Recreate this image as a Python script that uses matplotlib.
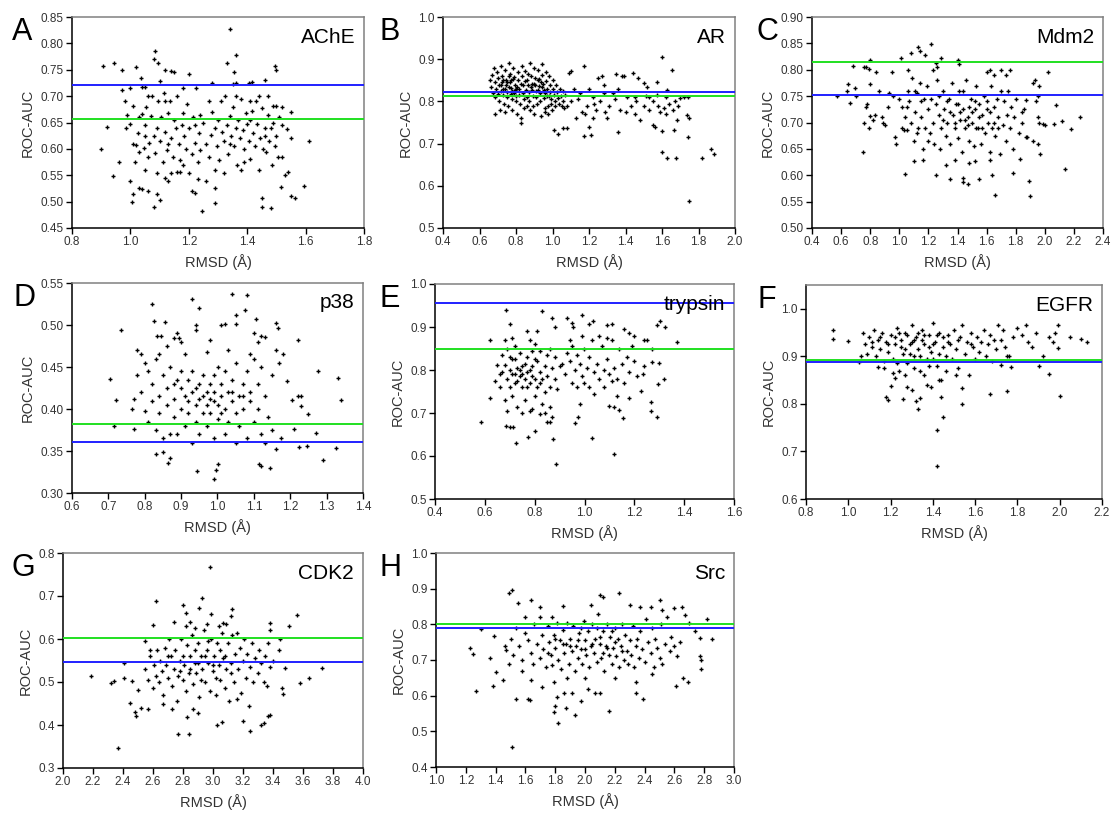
import numpy as np
import matplotlib
matplotlib.use("Agg")
import matplotlib.pyplot as plt

plt.rcParams['font.family'] = ['Liberation Sans', 'DejaVu Sans']

W, H = 1116, 818

# ---- data (RMSD, ROC-AUC) ----
ache = np.array([
    (0.905,0.757),(0.945,0.762),(0.97,0.750),(1.02,0.755),(1.035,0.735),(0.90,0.600),(0.92,0.641),(0.94,0.549),
    (0.96,0.575),(1.005,0.500),(1.01,0.515),(1.0,0.540),(1.08,0.770),(1.085,0.785),(1.095,0.762),(1.10,0.728),
    (1.12,0.750),(1.14,0.748),(1.15,0.745),(1.20,0.742),(1.08,0.490),(1.10,0.503),(1.09,0.515),(1.245,0.482),
    (1.29,0.498),(1.29,0.525),(1.34,0.827),(1.36,0.778),(1.355,0.745),(1.33,0.763),(1.46,0.731),(1.50,0.750),
    (1.495,0.758),(1.45,0.506),(1.45,0.490),(1.48,0.488),(1.55,0.510),(1.565,0.506),(1.595,0.530),(1.61,0.615),
    (1.55,0.670),(1.535,0.638),(1.55,0.620),(1.54,0.557),(1.53,0.551),(1.52,0.585),(1.515,0.527),(1.50,0.681),
    (1.52,0.680),(1.49,0.682),(1.21,0.520),(1.22,0.517),(1.23,0.542),(1.26,0.540),(1.16,0.556),(1.17,0.556),
    (1.14,0.555),(1.13,0.540),(1.12,0.545),(1.05,0.560),(1.03,0.526),(1.04,0.523),(1.06,0.520),(1.18,0.715),
    (1.225,0.716),(1.28,0.725),(1.35,0.723),(1.36,0.725),(1.405,0.725),(1.415,0.726),(1.05,0.718),(1.04,0.717),
    (1.0,0.715),(0.97,0.711),(0.98,0.690),(0.99,0.665),(1.00,0.648),(0.985,0.640),(1.01,0.682),(1.02,0.608),
    (1.03,0.595),(1.015,0.575),(1.025,0.630),(1.04,0.666),(1.045,0.602),(1.05,0.645),(1.055,0.680),(1.06,0.585),
    (1.065,0.612),(1.07,0.662),(1.075,0.700),(1.08,0.625),(1.085,0.593),(1.09,0.640),(1.095,0.690),(1.10,0.615),
    (1.105,0.660),(1.11,0.575),(1.115,0.705),(1.12,0.632),(1.125,0.598),(1.13,0.668),(1.135,0.690),(1.14,0.620),
    (1.145,0.585),(1.15,0.655),(1.155,0.640),(1.16,0.700),(1.165,0.610),(1.17,0.578),(1.175,0.645),(1.18,0.668),
    (1.185,0.625),(1.19,0.600),(1.195,0.685),(1.20,0.640),(1.21,0.590),(1.215,0.660),(1.22,0.612),(1.23,0.575),
    (1.235,0.630),(1.24,0.598),(1.25,0.650),(1.26,0.610),(1.27,0.585),(1.275,0.627),(1.28,0.670),(1.29,0.640),
    (1.295,0.605),(1.30,0.655),(1.305,0.578),(1.31,0.690),(1.315,0.632),(1.32,0.615),(1.325,0.700),(1.33,0.645),
    (1.335,0.590),(1.34,0.662),(1.345,0.625),(1.35,0.680),(1.355,0.605),(1.36,0.640),(1.365,0.570),(1.37,0.655),
    (1.375,0.620),(1.38,0.695),(1.385,0.635),(1.39,0.600),(1.395,0.668),(1.40,0.648),(1.405,0.615),(1.41,0.580),
    (1.415,0.672),(1.42,0.630),(1.425,0.605),(1.43,0.690),(1.435,0.648),(1.44,0.560),(1.445,0.620),(1.45,0.678),
    (1.455,0.600),(1.46,0.640),(1.465,0.595),(1.47,0.665),(1.475,0.615),(1.48,0.640),(1.485,0.570),(1.49,0.650),
    (1.495,0.605),(1.50,0.625),(1.505,0.585),(1.51,0.660),(1.52,0.645),(1.03,0.660),(1.06,0.700),(1.09,0.555),
    (1.12,0.690),(1.18,0.570),(1.24,0.665),(1.32,0.555),(1.38,0.560),(1.44,0.700),(1.47,0.700),(1.41,0.690),
    (1.36,0.700),(1.27,0.690),(1.13,0.610),(1.01,0.610),(1.05,0.625),(1.22,0.645),(1.34,0.610),(1.41,0.655),
    (1.46,0.625),(1.39,0.575),(1.29,0.560),(1.20,0.555)])

ar = np.array([
    (1.60,0.905),(1.655,0.875),(1.75,0.565),(1.60,0.680),(1.63,0.665),(1.675,0.665),(1.82,0.667),(1.87,0.688),
    (1.885,0.675),(1.745,0.715),(1.75,0.760),(1.735,0.767),(1.68,0.755),(1.665,0.733),(1.55,0.745),(1.56,0.740),
    (1.60,0.729),(1.36,0.727),(1.03,0.723),(1.01,0.732),(1.06,0.736),(1.08,0.736),(1.175,0.717),(1.21,0.720),
    (1.20,0.740),(1.17,0.885),(1.10,0.872),(1.09,0.868),(1.35,0.865),(1.38,0.860),(1.39,0.861),(1.44,0.868),
    (1.47,0.855),(1.50,0.843),(1.52,0.833),(1.57,0.845),(1.25,0.855),(1.27,0.860),(1.28,0.840),(1.63,0.826),
    (1.70,0.808),(1.72,0.810),(1.74,0.810),(1.12,0.830),(1.15,0.820),(1.14,0.805),(1.16,0.775),(1.18,0.770),
    (1.19,0.790),(1.22,0.810),(1.23,0.795),(1.24,0.780),(1.26,0.800),(1.29,0.775),(1.30,0.760),(1.31,0.790),
    (1.33,0.820),(1.34,0.805),(1.37,0.780),(1.40,0.775),(1.41,0.810),(1.43,0.790),(1.45,0.770),(1.46,0.800),
    (1.48,0.755),(1.50,0.790),(1.51,0.812),(1.53,0.780),(1.55,0.800),(1.57,0.815),(1.58,0.790),(1.59,0.775),
    (1.61,0.785),(1.62,0.770),(1.64,0.795),(1.66,0.780),(1.67,0.800),(1.69,0.790),(1.20,0.830),(1.28,0.820),
    (1.36,0.830),(1.45,0.810),(1.10,0.800),(1.08,0.790),(1.07,0.815),(1.13,0.760),(1.22,0.760),(1.53,0.810),
    (1.62,0.810),(0.655,0.850),(0.662,0.835),(0.668,0.862),(0.672,0.820),(0.678,0.880),(0.683,0.845),(0.687,0.810),
    (0.684,0.770),(0.691,0.830),(0.697,0.870),(0.702,0.855),(0.705,0.840),(0.708,0.800),(0.712,0.780),(0.716,0.825),
    (0.719,0.885),(0.722,0.860),(0.725,0.845),(0.728,0.830),(0.731,0.815),(0.734,0.795),(0.737,0.775),(0.741,0.875),
    (0.744,0.850),(0.747,0.838),(0.750,0.822),(0.753,0.810),(0.756,0.790),(0.759,0.860),(0.762,0.890),(0.765,0.865),
    (0.768,0.845),(0.771,0.832),(0.774,0.818),(0.777,0.805),(0.780,0.780),(0.783,0.852),(0.786,0.880),(0.789,0.858),
    (0.792,0.840),(0.795,0.826),(0.798,0.812),(0.801,0.800),(0.804,0.770),(0.807,0.835),(0.810,0.870),(0.813,0.850),
    (0.816,0.830),(0.819,0.815),(0.822,0.795),(0.825,0.760),(0.828,0.842),(0.831,0.885),(0.834,0.860),(0.837,0.838),
    (0.840,0.820),(0.843,0.805),(0.846,0.785),(0.829,0.750),(0.849,0.872),(0.852,0.848),(0.855,0.828),(0.858,0.810),
    (0.861,0.790),(0.864,0.865),(0.867,0.840),(0.870,0.822),(0.873,0.800),(0.876,0.780),(0.879,0.890),(0.882,0.860),
    (0.885,0.842),(0.888,0.826),(0.891,0.812),(0.894,0.790),(0.897,0.770),(0.900,0.880),(0.903,0.855),(0.906,0.838),
    (0.909,0.825),(0.912,0.810),(0.915,0.795),(0.918,0.850),(0.921,0.875),(0.924,0.852),(0.927,0.836),(0.930,0.820),
    (0.933,0.800),(0.936,0.765),(0.939,0.845),(0.942,0.888),(0.945,0.862),(0.948,0.842),(0.951,0.826),(0.954,0.808),
    (0.957,0.785),(0.960,0.775),(0.963,0.870),(0.966,0.848),(0.969,0.830),(0.972,0.812),(0.975,0.790),(0.978,0.770),
    (0.981,0.860),(0.984,0.840),(0.987,0.822),(0.990,0.805),(0.993,0.795),(0.996,0.780),(1.000,0.850),(1.004,0.830),
    (1.008,0.815),(1.012,0.800),(1.016,0.790),(1.020,0.840),(1.025,0.822),(1.030,0.808),(1.035,0.795),(1.040,0.830),
    (1.045,0.812),(1.050,0.790),(1.055,0.825),(1.060,0.800),(1.065,0.785),(0.74,0.830),(0.76,0.835),(0.78,0.825),
    (0.75,0.845),(0.77,0.850),(0.79,0.820),(0.73,0.850),(0.72,0.838),(0.80,0.830),(0.70,0.818),(0.88,0.835),
    (0.90,0.842),(0.92,0.828),(0.86,0.850),(0.94,0.835),(0.96,0.820),(0.98,0.812)])

mdm2 = np.array([
    (0.575,0.750),(0.64,0.760),(0.645,0.773),(0.66,0.737),(0.68,0.808),(0.695,0.765),(0.70,0.750),(0.75,0.645),
    (0.755,0.805),(0.77,0.805),(0.80,0.818),(0.79,0.802),(0.80,0.773),(0.76,0.700),(0.77,0.730),(0.78,0.735),
    (0.79,0.690),(0.80,0.712),(0.82,0.705),(0.83,0.715),(0.84,0.795),(0.86,0.760),(0.88,0.710),(0.89,0.700),
    (0.90,0.695),(0.92,0.730),(0.93,0.755),(0.95,0.795),(0.96,0.750),(0.97,0.672),(0.98,0.660),(1.00,0.745),
    (1.01,0.823),(1.02,0.690),(1.03,0.685),(1.04,0.602),(1.05,0.730),(1.06,0.800),(1.08,0.832),(1.10,0.627),
    (1.11,0.760),(1.12,0.680),(1.13,0.843),(1.14,0.835),(1.15,0.740),(1.16,0.628),(1.18,0.828),(1.20,0.665),
    (1.22,0.848),(1.23,0.800),(1.25,0.813),(1.25,0.600),(1.26,0.805),(1.29,0.822),(1.32,0.620),(1.35,0.593),
    (1.38,0.628),(1.40,0.818),(1.41,0.810),(1.44,0.595),(1.44,0.587),(1.47,0.583),(1.48,0.623),(1.52,0.627),
    (1.55,0.592),(1.62,0.628),(1.64,0.600),(1.66,0.563),(1.78,0.605),(1.83,0.630),(1.89,0.590),(1.90,0.560),
    (1.95,0.660),(1.97,0.640),(2.02,0.795),(2.00,0.695),(1.99,0.697),(2.06,0.698),(2.08,0.733),(2.12,0.703),
    (2.14,0.611),(2.18,0.688),(2.24,0.710),(1.93,0.780),(1.92,0.775),(1.96,0.770),(1.95,0.750),(1.94,0.740),
    (1.95,0.710),(1.96,0.700),(1.92,0.665),(1.87,0.672),(1.88,0.672),(1.86,0.725),(1.87,0.742),(1.84,0.700),
    (1.76,0.800),(1.73,0.790),(1.70,0.800),(1.62,0.800),(1.60,0.795),(1.65,0.790),
    (1.02,0.730),(1.04,0.710),(1.05,0.685),(1.06,0.760),(1.07,0.740),(1.08,0.700),(1.09,0.785),(1.10,0.665),
    (1.11,0.720),(1.12,0.755),(1.13,0.690),(1.14,0.775),(1.15,0.710),(1.16,0.650),(1.17,0.745),(1.18,0.690),
    (1.19,0.770),(1.20,0.725),(1.21,0.680),(1.22,0.745),(1.23,0.700),(1.24,0.660),(1.25,0.735),(1.26,0.780),
    (1.27,0.715),(1.28,0.650),(1.29,0.690),(1.30,0.760),(1.31,0.725),(1.32,0.675),(1.33,0.700),(1.34,0.745),
    (1.35,0.660),(1.36,0.775),(1.37,0.715),(1.38,0.690),(1.39,0.735),(1.40,0.670),(1.41,0.760),(1.42,0.705),
    (1.43,0.645),(1.44,0.725),(1.45,0.690),(1.46,0.780),(1.47,0.710),(1.48,0.665),(1.49,0.745),(1.50,0.700),
    (1.51,0.655),(1.52,0.725),(1.53,0.770),(1.54,0.690),(1.55,0.735),(1.56,0.660),(1.57,0.715),(1.58,0.750),
    (1.59,0.680),(1.60,0.725),(1.61,0.700),(1.62,0.645),(1.63,0.770),(1.64,0.690),(1.65,0.730),(1.66,0.675),
    (1.67,0.745),(1.68,0.710),(1.69,0.640),(1.70,0.760),(1.71,0.695),(1.72,0.740),(1.73,0.665),(1.74,0.715),
    (1.75,0.760),(1.76,0.690),(1.77,0.730),(1.78,0.650),(1.79,0.710),(1.80,0.745),(1.82,0.680),(1.84,0.720),
    (1.30,0.705),(1.35,0.720),(1.40,0.735),(1.45,0.705),(1.50,0.720),(1.55,0.710),(1.60,0.740),(1.65,0.700),
    (1.42,0.720),(1.47,0.695),(1.52,0.740),(1.38,0.700),(1.57,0.690),(1.48,0.730),(1.33,0.740),(1.62,0.720),
    (1.27,0.750),(1.44,0.760),(1.53,0.690),(1.68,0.690)])

p38 = np.array([
    (0.705,0.436),(0.715,0.380),(0.72,0.411),(0.735,0.494),(0.77,0.376),(0.765,0.400),(0.77,0.412),(0.78,0.470),
    (0.82,0.525),(0.825,0.505),(0.83,0.347),(0.85,0.349),(0.855,0.503),(0.865,0.336),(0.87,0.342),(0.93,0.531),
    (0.945,0.326),(0.95,0.520),(0.99,0.317),(0.995,0.327),(1.0,0.335),(1.04,0.537),(1.075,0.518),(1.08,0.536),
    (1.05,0.512),(1.105,0.507),(1.115,0.335),(1.12,0.332),(1.145,0.330),(1.16,0.502),(1.165,0.497),(1.22,0.482),
    (1.205,0.411),(1.21,0.376),(1.225,0.355),(1.245,0.356),(1.23,0.403),(1.25,0.394),(1.27,0.372),(1.275,0.445),
    (1.29,0.339),(1.325,0.354),(1.33,0.437),(1.34,0.411),(1.22,0.415),(1.23,0.416),(1.19,0.433),(1.18,0.465),
    (1.175,0.365),(1.16,0.352),(0.94,0.500),(0.94,0.494),(0.89,0.490),(0.895,0.485),(0.90,0.480),(0.88,0.484),
    (0.835,0.487),(0.845,0.487),(1.05,0.501),(1.01,0.500),(1.02,0.501),(0.98,0.482),(1.12,0.487),(1.13,0.486),
    (1.10,0.490),(0.78,0.440),(0.79,0.420),(0.80,0.398),(0.80,0.455),(0.81,0.385),(0.82,0.410),(0.82,0.430),
    (0.83,0.375),(0.83,0.460),(0.84,0.395),(0.84,0.415),(0.85,0.365),(0.85,0.440),(0.86,0.405),(0.86,0.425),
    (0.87,0.370),(0.87,0.450),(0.88,0.390),(0.88,0.412),(0.89,0.435),(0.89,0.370),(0.90,0.400),(0.90,0.425),
    (0.90,0.445),(0.91,0.380),(0.91,0.415),(0.92,0.435),(0.92,0.395),(0.93,0.360),(0.93,0.420),(0.93,0.445),
    (0.94,0.405),(0.94,0.385),(0.95,0.430),(0.95,0.412),(0.95,0.370),(0.96,0.395),(0.96,0.440),(0.97,0.420),
    (0.97,0.405),(0.97,0.380),(0.98,0.430),(0.98,0.412),(0.98,0.395),(0.99,0.365),(0.99,0.440),(0.99,0.420),
    (1.00,0.405),(1.00,0.450),(1.00,0.388),(1.01,0.430),(1.01,0.415),(1.02,0.370),(1.02,0.400),(1.02,0.445),
    (1.03,0.420),(1.03,0.385),(1.04,0.410),(1.04,0.435),(1.05,0.360),(1.05,0.395),(1.05,0.455),(1.06,0.415),
    (1.06,0.380),(1.07,0.430),(1.07,0.400),(1.08,0.365),(1.08,0.445),(1.09,0.410),(1.09,0.420),(1.10,0.385),
    (1.10,0.460),(1.11,0.400),(1.11,0.430),(1.12,0.370),(1.12,0.450),(1.13,0.415),(1.14,0.390),(1.15,0.440),
    (1.16,0.470),(1.17,0.455),(1.15,0.375),(1.13,0.360),(0.96,0.415),(1.01,0.395),(0.94,0.425),(1.04,0.420),
    (0.99,0.410),(0.92,0.410),(1.07,0.415),(0.88,0.430),(0.79,0.465),(0.81,0.445),(0.84,0.465),(0.86,0.475),
    (0.91,0.465),(0.97,0.468),(1.03,0.470),(1.09,0.465),(1.11,0.480)])

trypsin = np.array([
    (0.585,0.680),(0.62,0.870),(0.62,0.736),(0.685,0.940),(0.70,0.907),(0.685,0.670),(0.70,0.667),(0.715,0.668),
    (0.725,0.630),(0.775,0.645),(0.83,0.937),(0.87,0.922),(0.875,0.640),(0.885,0.582),(0.88,0.900),(0.93,0.920),
    (0.95,0.910),(0.955,0.900),(0.99,0.928),(1.02,0.907),(1.03,0.643),(1.035,0.915),(1.12,0.605),(1.09,0.905),
    (1.11,0.907),(1.16,0.895),(1.18,0.885),(1.20,0.880),(1.24,0.870),(1.25,0.870),(1.29,0.905),(1.305,0.915),
    (1.325,0.900),(1.37,0.865),(1.32,0.780),(1.29,0.690),(1.295,0.768),(1.30,0.816),(1.27,0.818),(1.265,0.725),
    (1.265,0.705),(1.225,0.752),(1.235,0.790),(1.24,0.810),(1.27,0.850),(1.18,0.735),(1.155,0.688),(1.14,0.706),
    (1.12,0.715),(1.10,0.717),(0.96,0.676),(0.975,0.690),(0.98,0.720),(0.86,0.680),(0.87,0.690),(0.85,0.680),
    (0.80,0.657),(0.82,0.697),(0.64,0.775),(0.65,0.812),(0.66,0.760),(0.67,0.795),(0.67,0.835),(0.68,0.730),
    (0.68,0.812),(0.69,0.780),(0.69,0.850),(0.70,0.760),(0.70,0.800),(0.71,0.740),(0.71,0.825),(0.72,0.790),
    (0.72,0.770),(0.73,0.805),(0.73,0.715),(0.74,0.785),(0.74,0.840),(0.75,0.760),(0.75,0.810),(0.76,0.780),
    (0.76,0.730),(0.77,0.830),(0.77,0.795),(0.78,0.770),(0.78,0.705),(0.79,0.810),(0.79,0.845),(0.80,0.780),
    (0.80,0.740),(0.81,0.820),(0.81,0.760),(0.82,0.795),(0.82,0.845),(0.83,0.720),(0.83,0.780),(0.84,0.810),
    (0.84,0.750),(0.85,0.835),(0.85,0.785),(0.86,0.760),(0.86,0.715),(0.87,0.805),(0.88,0.780),(0.88,0.830),
    (0.89,0.755),(0.90,0.810),(0.71,0.790),(0.75,0.790),(0.78,0.800),(0.73,0.775),(0.76,0.815),(0.80,0.825),
    (0.74,0.800),(0.77,0.760),(0.72,0.825),(0.79,0.785),(0.70,0.830),(0.82,0.770),(0.66,0.790),(0.69,0.705),
    (0.75,0.700),(0.79,0.710),(0.84,0.700),(0.72,0.855),(0.80,0.860),(0.86,0.850),(0.68,0.870),(0.71,0.875),
    (0.78,0.870),(0.81,0.890),(0.77,0.890),(0.91,0.815),(0.92,0.790),(0.93,0.840),(0.94,0.820),(0.95,0.770),
    (0.95,0.855),(0.96,0.800),(0.97,0.835),(0.97,0.760),(0.98,0.815),(0.99,0.785),(1.00,0.850),(1.00,0.770),
    (1.01,0.805),(1.02,0.830),(1.02,0.760),(1.03,0.870),(1.04,0.795),(1.04,0.745),(1.05,0.815),(1.06,0.780),
    (1.07,0.855),(1.08,0.800),(1.08,0.760),(1.09,0.825),(1.10,0.790),(1.11,0.870),(1.11,0.775),(1.12,0.805),
    (1.13,0.780),(1.14,0.850),(1.15,0.815),(1.16,0.770),(1.17,0.830),(1.18,0.795),(1.19,0.855),(1.20,0.820),
    (1.21,0.785),(1.06,0.880),(1.09,0.875),(0.99,0.880),(0.94,0.870),(1.13,0.740)])

egfr = np.array([
    (0.93,0.955),(0.93,0.937),(1.00,0.932),(1.05,0.888),(1.14,0.878),(1.17,0.875),(1.18,0.815),(1.19,0.808),
    (1.20,0.838),(1.22,0.855),(1.26,0.810),(1.28,0.835),(1.30,0.830),(1.32,0.806),(1.33,0.790),(1.34,0.813),
    (1.37,0.840),(1.39,0.836),(1.42,0.745),(1.42,0.670),(1.44,0.815),(1.45,0.772),(1.54,0.800),(1.54,0.833),
    (1.67,0.820),(1.75,0.828),(1.90,0.880),(1.95,0.863),(2.00,0.816),(2.05,0.940),(2.10,0.937),(2.13,0.930),
    (1.99,0.965),(1.98,0.950),(1.95,0.940),(1.97,0.930),(1.99,0.918),(1.92,0.900),(1.89,0.950),(1.87,0.920),
    (1.84,0.965),(1.80,0.960),(1.82,0.945),(1.78,0.940),(1.85,0.930),(1.77,0.878),(1.72,0.882),(1.76,0.900),
    (1.71,0.965),(1.73,0.955),(1.06,0.900),(1.07,0.950),(1.08,0.925),(1.09,0.905),(1.10,0.940),(1.11,0.920),
    (1.12,0.955),(1.13,0.900),(1.14,0.935),(1.15,0.915),(1.16,0.950),(1.17,0.890),(1.18,0.930),(1.19,0.910),
    (1.20,0.945),(1.21,0.895),(1.22,0.925),(1.23,0.960),(1.24,0.870),(1.25,0.935),(1.26,0.905),(1.27,0.950),
    (1.28,0.885),(1.29,0.925),(1.30,0.965),(1.31,0.900),(1.32,0.940),(1.33,0.915),(1.34,0.870),(1.35,0.955),
    (1.36,0.925),(1.37,0.895),(1.38,0.945),(1.39,0.910),(1.40,0.970),(1.41,0.930),(1.42,0.880),(1.43,0.950),
    (1.44,0.850),(1.45,0.920),(1.46,0.900),(1.47,0.945),(1.48,0.925),(1.49,0.895),(1.50,0.955),(1.51,0.915),
    (1.52,0.875),(1.53,0.940),(1.54,0.965),(1.55,0.905),(1.56,0.930),(1.57,0.860),(1.58,0.950),(1.59,0.920),
    (1.60,0.895),(1.61,0.940),(1.62,0.910),(1.63,0.930),(1.64,0.955),(1.65,0.900),(1.66,0.925),(1.67,0.945),
    (1.68,0.890),(1.69,0.935),(1.70,0.915),(1.72,0.935),(1.74,0.920),(1.75,0.900),(1.25,0.920),(1.30,0.930),
    (1.35,0.935),(1.40,0.925),(1.45,0.940),(1.28,0.945),(1.33,0.950),(1.38,0.920),(1.22,0.940),(1.27,0.915),
    (1.42,0.945),(1.36,0.945),(1.31,0.935),(1.24,0.950),(1.47,0.930),(1.19,0.925),(1.52,0.935),(1.58,0.925),
    (1.34,0.900),(1.29,0.905),(1.43,0.905),(1.23,0.885),(1.31,0.875),(1.38,0.880),(1.46,0.870),(1.51,0.860),
    (1.36,0.860),(1.27,0.860),(1.21,0.865),(1.43,0.850),(1.40,0.895),(1.15,0.940),(1.11,0.930)])

cdk2 = np.array([
    (2.19,0.513),(2.32,0.497),(2.34,0.502),(2.37,0.347),(2.41,0.545),(2.41,0.510),(2.45,0.452),(2.46,0.503),
    (2.48,0.430),(2.49,0.420),(2.50,0.481),(2.52,0.440),(2.57,0.437),(2.60,0.632),(2.62,0.688),(2.67,0.450),
    (2.73,0.437),(2.77,0.380),(2.84,0.380),(2.83,0.418),(2.87,0.437),(2.90,0.428),(2.93,0.695),(2.91,0.672),
    (2.98,0.768),(2.99,0.658),(3.03,0.400),(3.06,0.408),(3.13,0.670),(3.20,0.410),(3.25,0.387),(3.32,0.400),
    (3.34,0.405),(3.37,0.420),(3.38,0.424),(3.47,0.472),(3.46,0.485),(3.48,0.533),(3.51,0.630),(3.56,0.655),
    (3.58,0.497),(3.64,0.510),(3.73,0.533),(3.45,0.600),(3.44,0.575),(3.38,0.638),(3.38,0.620),(3.37,0.590),
    (2.55,0.595),(2.58,0.575),(2.80,0.678),(2.82,0.660),(2.74,0.640),(2.85,0.640),(3.09,0.635),(3.07,0.637),
    (3.12,0.653),(2.55,0.530),(2.57,0.505),(2.58,0.560),(2.60,0.485),(2.61,0.540),(2.62,0.515),(2.63,0.575),
    (2.64,0.500),(2.65,0.550),(2.66,0.525),(2.67,0.470),(2.68,0.580),(2.69,0.540),(2.70,0.510),(2.71,0.600),
    (2.72,0.560),(2.73,0.490),(2.74,0.530),(2.75,0.575),(2.76,0.455),(2.77,0.515),(2.78,0.550),(2.79,0.600),
    (2.80,0.505),(2.81,0.540),(2.82,0.480),(2.83,0.585),(2.84,0.520),(2.85,0.560),(2.86,0.610),(2.87,0.495),
    (2.88,0.545),(2.89,0.520),(2.90,0.590),(2.91,0.465),(2.92,0.560),(2.93,0.530),(2.94,0.620),(2.95,0.500),
    (2.96,0.575),(2.97,0.545),(2.98,0.480),(2.99,0.600),(3.00,0.525),(3.01,0.560),(3.02,0.470),(3.03,0.590),
    (3.04,0.540),(3.05,0.505),(3.06,0.615),(3.07,0.555),(3.08,0.485),(3.09,0.530),(3.10,0.590),(3.11,0.455),
    (3.12,0.545),(3.13,0.610),(3.14,0.500),(3.15,0.565),(3.16,0.460),(3.17,0.530),(3.18,0.580),(3.19,0.475),
    (3.20,0.550),(3.21,0.600),(3.22,0.510),(3.23,0.565),(3.24,0.445),(3.25,0.535),(3.26,0.590),(3.27,0.500),
    (3.28,0.555),(3.30,0.520),(3.31,0.575),(3.32,0.545),(3.34,0.500),(3.35,0.560),(3.36,0.490),(3.38,0.535),
    (3.40,0.550),(2.85,0.530),(2.90,0.545),(2.95,0.560),(3.00,0.540),(3.05,0.575),(2.80,0.560),(2.92,0.505),
    (3.08,0.560),(2.97,0.595),(2.88,0.575),(3.02,0.510),(2.78,0.525),(3.12,0.520),(2.70,0.560),(2.96,0.635),
    (2.88,0.625),(3.04,0.630),(2.82,0.630),(3.16,0.615)])

src = np.array([
    (1.23,0.733),(1.25,0.717),(1.27,0.613),(1.30,0.788),(1.36,0.705),(1.38,0.626),(1.39,0.768),(1.40,0.665),
    (1.45,0.645),(1.49,0.888),(1.51,0.895),(1.51,0.455),(1.54,0.592),(1.55,0.860),(1.63,0.588),(1.62,0.590),
    (1.64,0.868),(1.70,0.848),(1.78,0.820),(1.79,0.553),(1.80,0.570),(1.81,0.595),(1.82,0.523),(1.85,0.852),
    (1.87,0.565),(1.93,0.546),(1.97,0.585),(2.04,0.855),(2.10,0.882),(2.12,0.878),(2.16,0.556),(2.23,0.888),
    (2.30,0.855),(2.37,0.850),(2.39,0.590),(2.44,0.850),(2.50,0.868),(2.52,0.840),(2.60,0.845),(2.65,0.850),
    (2.61,0.628),(2.66,0.650),(2.69,0.638),(2.74,0.782),(2.77,0.712),(2.78,0.700),(2.78,0.675),(2.82,0.815),
    (2.85,0.760),(2.77,0.763),(2.70,0.805),(2.67,0.825),(2.34,0.608),(2.34,0.638),(2.10,0.607),(2.07,0.607),
    (2.02,0.618),(1.91,0.607),(1.86,0.607),(1.79,0.637),(1.71,0.623),(1.64,0.645),(1.58,0.670),(1.49,0.690),
    (1.47,0.728),(1.46,0.740),(1.50,0.760),(1.52,0.715),(1.54,0.790),(1.56,0.740),(1.58,0.700),(1.60,0.775),
    (1.62,0.755),(1.64,0.720),(1.66,0.800),(1.68,0.745),(1.70,0.705),(1.71,0.770),(1.72,0.730),(1.74,0.680),
    (1.75,0.795),(1.76,0.750),(1.77,0.715),(1.78,0.685),(1.79,0.770),(1.80,0.735),(1.81,0.805),(1.82,0.700),
    (1.83,0.755),(1.84,0.675),(1.85,0.785),(1.86,0.720),(1.87,0.745),(1.88,0.805),(1.89,0.690),(1.90,0.760),
    (1.91,0.725),(1.92,0.795),(1.93,0.670),(1.94,0.740),(1.95,0.705),(1.96,0.775),(1.97,0.730),(1.98,0.690),
    (1.99,0.810),(2.00,0.755),(2.01,0.715),(2.02,0.780),(2.03,0.680),(2.04,0.740),(2.05,0.800),(2.06,0.720),
    (2.07,0.760),(2.08,0.695),(2.09,0.830),(2.10,0.745),(2.11,0.705),(2.12,0.780),(2.13,0.670),(2.14,0.740),
    (2.15,0.800),(2.16,0.715),(2.17,0.765),(2.18,0.690),(2.19,0.735),(2.20,0.790),(2.21,0.710),(2.22,0.760),
    (2.23,0.680),(2.24,0.740),(2.25,0.800),(2.26,0.700),(2.27,0.770),(2.28,0.725),(2.29,0.690),(2.30,0.755),
    (2.31,0.715),(2.32,0.795),(2.33,0.680),(2.34,0.740),(2.35,0.760),(2.36,0.705),(2.37,0.780),(2.38,0.730),
    (2.40,0.695),(2.41,0.815),(2.42,0.750),(2.44,0.720),(2.45,0.790),(2.46,0.680),(2.47,0.760),(2.48,0.735),
    (2.50,0.705),(2.51,0.800),(2.52,0.690),(2.54,0.745),(2.55,0.820),(2.57,0.725),(2.58,0.765),(2.60,0.740),
    (2.62,0.710),(2.64,0.750),(1.90,0.740),(1.95,0.755),(2.00,0.730),(2.05,0.745),(2.10,0.765),(2.15,0.735),
    (2.20,0.750),(1.85,0.745),(2.25,0.725),(1.80,0.760),(2.12,0.720),(1.97,0.790),(2.08,0.790),(2.18,0.780),
    (1.75,0.720),(1.65,0.690),(1.70,0.820),(1.60,0.820),(2.00,0.650),(2.20,0.650),(2.45,0.660),(1.88,0.650)])

names = ['AChE', 'AR', 'Mdm2', 'p38', 'trypsin', 'EGFR', 'CDK2', 'Src']
letters = ['A', 'B', 'C', 'D', 'E', 'F', 'G', 'H']
datasets = [ache, ar, mdm2, p38, trypsin, egfr, cdk2, src]
blue_ref = [0.722, 0.822, 0.753, 0.361, 0.955, 0.889, 0.547, 0.789]
green_ref = [0.656, 0.813, 0.815, 0.382, 0.848, 0.893, 0.603, 0.800]
xlims = [(0.8, 1.8), (0.4, 2.0), (0.4, 2.4), (0.6, 1.4), (0.4, 1.6), (0.8, 2.2), (2.0, 4.0), (1.0, 3.0)]
xsteps = [0.2, 0.2, 0.2, 0.1, 0.2, 0.2, 0.2, 0.2]
ylims = [(0.45, 0.85), (0.5, 1.0), (0.50, 0.90), (0.30, 0.55), (0.5, 1.0), (0.6, 1.05), (0.3, 0.8), (0.4, 1.0)]
yticks = [np.arange(0.45, 0.851, 0.05), np.arange(0.5, 1.01, 0.1), np.arange(0.5, 0.901, 0.05),
          np.arange(0.30, 0.551, 0.05), np.arange(0.5, 1.01, 0.1), np.arange(0.6, 1.01, 0.1),
          np.arange(0.3, 0.81, 0.1), np.arange(0.4, 1.01, 0.1)]
yfmt = ['%.2f', '%.1f', '%.2f', '%.2f', '%.1f', '%.1f', '%.1f', '%.1f']

# axes boxes in pixels: left, top, right, bottom; letter x offset in px
boxes = [(72, 17, 364, 228), (443, 17, 735, 228), (812, 17, 1103, 228),
         (72, 283, 363, 493), (435, 284, 734, 499), (806, 285, 1102, 499),
         (63, 553, 363, 768), (436, 553, 734, 767)]
letter_dx = [-60, -64, -55, -59, -56, -49, -51, -56]

fig = plt.figure(figsize=(W / 100, H / 100), dpi=100)
txt = '#333333'

for i in range(8):
    l, t, r, b = boxes[i]
    ax = fig.add_axes([l / W, 1 - b / H, (r - l) / W, (b - t) / H])
    d = datasets[i]
    ax.scatter(d[:, 0], d[:, 1], marker='+', s=7, c='k', linewidths=1.0, zorder=2)
    ax.axhline(blue_ref[i], color='#2020ff', lw=1.4, zorder=3)
    ax.axhline(green_ref[i], color='#20e020', lw=1.4, zorder=3)
    ax.set_xlim(*xlims[i])
    ax.set_ylim(*ylims[i])
    x0, x1 = xlims[i]
    ax.set_xticks(np.arange(x0, x1 + 1e-6, xsteps[i]))
    ax.set_yticks(yticks[i])
    ax.xaxis.set_major_formatter(plt.FormatStrFormatter('%.1f'))
    ax.yaxis.set_major_formatter(plt.FormatStrFormatter(yfmt[i]))
    ax.tick_params(direction='out', length=4, width=1, labelsize=8.5, labelcolor=txt,
                   top=False, right=False, pad=2)
    for s in ['left', 'bottom']:
        ax.spines[s].set_color('k')
        ax.spines[s].set_linewidth(1.1)
    for s in ['top', 'right']:
        ax.spines[s].set_color('#808080')
        ax.spines[s].set_linewidth(1.1)
    ax.set_xlabel('RMSD (Å)', fontsize=10.5, color=txt, labelpad=4)
    ax.set_ylabel('ROC-AUC', fontsize=10.5, color=txt, labelpad=4)
    ax.text(0.97, 0.95, names[i], transform=ax.transAxes, ha='right', va='top',
            fontsize=15, color='k', zorder=4)
    ax.text(letter_dx[i] / (r - l), 1.0, letters[i], transform=ax.transAxes,
            ha='left', va='top', fontsize=22, color='k')

fig.savefig('out.png', dpi=100)
